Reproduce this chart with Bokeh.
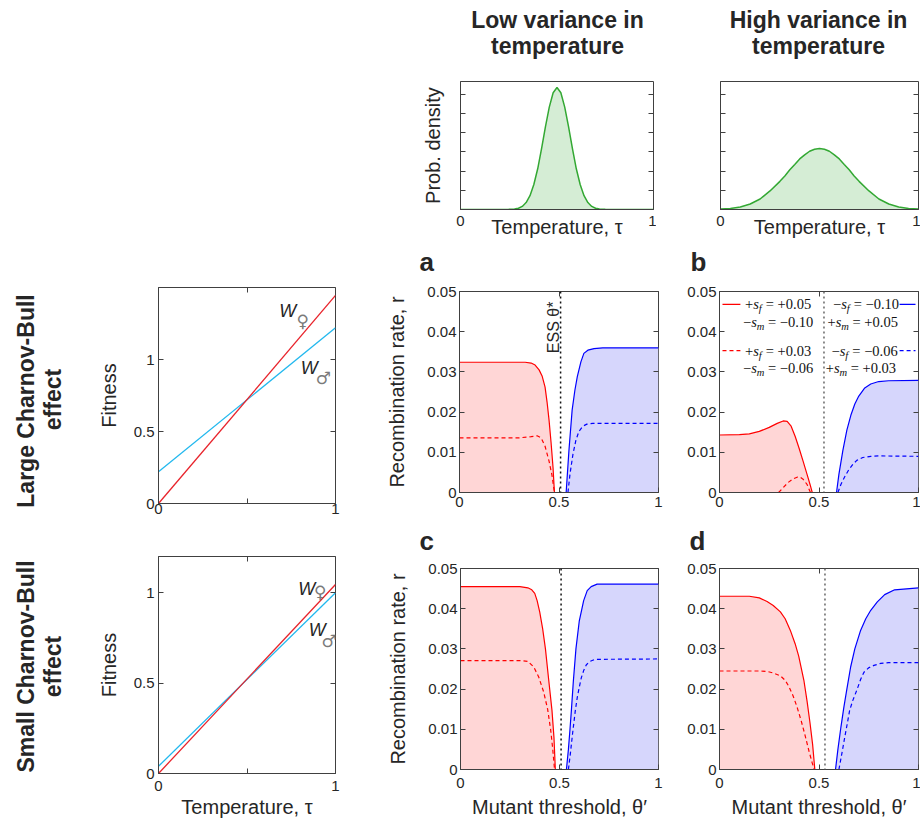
import numpy as np
from bokeh.plotting import figure
from bokeh.models import (Range1d, FixedTicker, LinearAxis, Span, Spacer, PrintfTickFormatter,
                          CustomLabelingPolicy)
from bokeh.layouts import row, column
from bokeh.core.properties import value
from bokeh.embed import file_html
from bokeh.resources import INLINE

# ---------------- data ----------------
# Temperature distributions (height as a fraction of the panel height)
dens_low_x = [0, 0.20, 0.25, 0.28, 0.30, 0.32, 0.34, 0.36, 0.38, 0.40, 0.42, 0.44, 0.46, 0.48, 0.50,
              0.52, 0.54, 0.56, 0.58, 0.60, 0.62, 0.64, 0.66, 0.68, 0.70, 0.72, 0.75, 0.80, 1.0]
dens_low_y = [0, 0, 0.001, 0.004, 0.010, 0.024, 0.054, 0.108, 0.195, 0.318, 0.475, 0.645, 0.800, 0.912, 0.953,
              0.912, 0.800, 0.645, 0.475, 0.318, 0.195, 0.108, 0.054, 0.024, 0.010, 0.004, 0.001, 0, 0]
dens_high_x = [0, 0.05, 0.10, 0.15, 0.20, 0.25, 0.30, 0.325, 0.35, 0.375, 0.40, 0.425, 0.45, 0.475, 0.50,
               0.525, 0.55, 0.575, 0.60, 0.625, 0.65, 0.675, 0.70, 0.75, 0.80, 0.85, 0.90, 0.95, 1.0]
dens_high_y = [0.003, 0.008, 0.020, 0.043, 0.082, 0.145, 0.220, 0.262, 0.310, 0.352, 0.395, 0.427, 0.455, 0.471, 0.477,
               0.471, 0.455, 0.427, 0.395, 0.352, 0.310, 0.262, 0.220, 0.145, 0.082, 0.043, 0.020, 0.008, 0.003]

# Fitness against temperature (values at tau = 0 and tau = 1)
fit_tau = [0, 1]
fit_large_female = [0.0, 1.445]
fit_large_male = [0.22, 1.22]
fit_small_female = [0.0, 1.045]
fit_small_male = [0.04, 1.0]

# Recombination rate r against mutant threshold theta'
a_red_x = [0, 0.33, 0.36, 0.38, 0.40, 0.415, 0.43, 0.44, 0.45, 0.46, 0.47, 0.477]
a_red_y = [0.0324, 0.0324, 0.0322, 0.0317, 0.0305, 0.0290, 0.0262, 0.0225, 0.0180, 0.0125, 0.0062, 0.0]
a_redd_x = [0, 0.30, 0.36, 0.39, 0.41, 0.43, 0.45, 0.465, 0.477]
a_redd_y = [0.0136, 0.0136, 0.0139, 0.0141, 0.0136, 0.0115, 0.0078, 0.0042, 0.0]
a_blue_x = [0.536, 0.55, 0.566, 0.58, 0.592, 0.61, 0.625, 0.645, 0.676, 0.72, 1.0]
a_blue_y = [0.0, 0.0105, 0.0205, 0.0255, 0.0288, 0.0325, 0.0346, 0.0354, 0.0358, 0.0360, 0.0360]
a_blued_x = [0.545, 0.555, 0.57, 0.585, 0.60, 0.62, 0.64, 0.67, 1.0]
a_blued_y = [0.0, 0.0045, 0.0095, 0.0130, 0.0152, 0.0165, 0.0170, 0.0172, 0.0172]

b_red_x = [0, 0.10, 0.15, 0.20, 0.25, 0.29, 0.32, 0.34, 0.36, 0.38, 0.40, 0.42, 0.44, 0.455, 0.466]
b_red_y = [0.0143, 0.0144, 0.0146, 0.0152, 0.0162, 0.0172, 0.0178, 0.0177, 0.0165, 0.0140, 0.0110, 0.0078, 0.0045, 0.0020, 0.0]
b_redd_x = [0.297, 0.32, 0.345, 0.37, 0.39, 0.405, 0.42, 0.44, 0.457]
b_redd_y = [0.0, 0.0012, 0.0025, 0.0034, 0.0038, 0.0038, 0.0033, 0.0020, 0.0]
b_blue_x = [0.588, 0.60, 0.62, 0.64, 0.66, 0.68, 0.70, 0.73, 0.76, 0.80, 0.85, 1.0]
b_blue_y = [0.0, 0.0045, 0.0105, 0.0155, 0.0192, 0.0220, 0.0240, 0.0260, 0.0270, 0.0276, 0.0278, 0.0279]
b_blued_x = [0.595, 0.61, 0.63, 0.65, 0.67, 0.69, 0.72, 0.76, 0.80, 1.0]
b_blued_y = [0.0, 0.0020, 0.0040, 0.0057, 0.0070, 0.0080, 0.0087, 0.0090, 0.0091, 0.0090]

c_red_x = [0, 0.30, 0.34, 0.36, 0.375, 0.387, 0.40, 0.415, 0.429, 0.445, 0.462, 0.472, 0.479]
c_red_y = [0.0455, 0.0455, 0.0452, 0.0447, 0.0438, 0.0420, 0.0392, 0.0350, 0.0300, 0.0225, 0.0147, 0.0080, 0.0]
c_redd_x = [0, 0.30, 0.34, 0.37, 0.395, 0.42, 0.44, 0.455, 0.465, 0.475]
c_redd_y = [0.0271, 0.0271, 0.0269, 0.0255, 0.0230, 0.0193, 0.0150, 0.0100, 0.0055, 0.0]
c_blue_x = [0.535, 0.545, 0.553, 0.56, 0.57, 0.583, 0.60, 0.622, 0.64, 0.66, 0.69, 1.0]
c_blue_y = [0.0, 0.0050, 0.0100, 0.0147, 0.0220, 0.0300, 0.0370, 0.0420, 0.0445, 0.0455, 0.0461, 0.0461]
c_blued_x = [0.545, 0.555, 0.565, 0.58, 0.59, 0.60, 0.61, 0.622, 0.635, 0.65, 0.68, 1.0]
c_blued_y = [0.0, 0.0040, 0.0085, 0.0147, 0.0180, 0.0205, 0.0228, 0.0246, 0.0260, 0.0268, 0.0274, 0.0275]

d_red_x = [0, 0.15, 0.20, 0.239, 0.27, 0.306, 0.33, 0.356, 0.38, 0.398, 0.424, 0.44, 0.455, 0.468, 0.479]
d_red_y = [0.0431, 0.0431, 0.0427, 0.0418, 0.0408, 0.0392, 0.0375, 0.0346, 0.0313, 0.0282, 0.0222, 0.0170, 0.0115, 0.0062, 0.0]
d_redd_x = [0, 0.20, 0.239, 0.27, 0.306, 0.33, 0.348, 0.37, 0.39, 0.41, 0.43, 0.45, 0.465, 0.476]
d_redd_y = [0.0245, 0.0245, 0.0244, 0.0240, 0.0233, 0.0222, 0.0207, 0.0183, 0.0155, 0.0122, 0.0085, 0.0045, 0.0018, 0.0]
d_blue_x = [0.583, 0.595, 0.61, 0.625, 0.64, 0.659, 0.68, 0.709, 0.735, 0.76, 0.793, 0.83, 0.88, 1.0]
d_blue_y = [0.0, 0.0050, 0.0105, 0.0155, 0.0200, 0.0255, 0.0300, 0.0346, 0.0375, 0.0396, 0.0417, 0.0435, 0.0447, 0.0452]
d_blued_x = [0.60, 0.615, 0.63, 0.645, 0.654, 0.67, 0.692, 0.709, 0.726, 0.75, 0.776, 0.81, 0.85, 1.0]
d_blued_y = [0.0, 0.0040, 0.0082, 0.0122, 0.0147, 0.0172, 0.0200, 0.0224, 0.0242, 0.0253, 0.0259, 0.0264, 0.0266, 0.0266]

# ESS threshold per panel
ess_theta = {"a": 0.508, "b": 0.525, "c": 0.508, "d": 0.530}

# legend entries (sign, subscript, value) : left column (red), right column (blue)
legend_left = [("+", "f", "= +0.05"), ("\u2212", "m", "= \u22120.10"),
               ("+", "f", "= +0.03"), ("\u2212", "m", "= \u22120.06")]
legend_right = [("\u2212", "f", "= \u22120.10"), ("+", "m", "= +0.05"),
                ("\u2212", "f", "= \u22120.06"), ("+", "m", "= +0.03")]

# ---------------- styling ----------------
SANS = "Liberation Sans"
SERIF = "Liberation Serif"
SYM = "DejaVu Sans"
TXT = "#262626"
AX = "#404040"
RED = "#ff0000"
BLUE = "#0000ff"
RED_FILL = "#ffd6d6"
BLUE_FILL = "#d6d6fc"
GREEN = "#33a833"
GREEN_FILL = "#d5edd5"
FIT_RED = "#e8232b"
FIT_CYAN = "#22b8ee"

R_TICKS = [0, 0.01, 0.02, 0.03, 0.04, 0.05]
T_TICKS = [0, 0.5, 1]


def no_labels():
    return CustomLabelingPolicy(code="return new Set()")


def base_fig(w, h, bl, br, bt, bb, xr, yr):
    p = figure(width=w, height=h, x_range=Range1d(*xr), y_range=Range1d(*yr), title=None,
               output_backend="svg", toolbar_location=None,
               min_border_left=bl, min_border_right=br, min_border_top=bt, min_border_bottom=bb)
    p.xgrid.visible = False
    p.ygrid.visible = False
    p.outline_line_color = AX
    p.outline_line_width = 1
    p.outline_line_alpha = 1.0
    return p


def canvas(x0, x1, y0, y1):
    p = figure(width=x1 - x0, height=y1 - y0, x_range=Range1d(x0, x1), y_range=Range1d(y1, y0),
               title=None, output_backend="svg", toolbar_location=None,
               x_axis_type=None, y_axis_type=None, min_border=0)
    p.outline_line_color = None
    return p


def style_axis(ax, ticks, standoff=3, size="15px", label=None, label_standoff=5, overrides=None):
    ax.ticker = FixedTicker(ticks=ticks)
    ax.formatter = PrintfTickFormatter(format="%g")
    if overrides:
        ax.major_label_overrides = overrides
    ax.major_tick_in = 5
    ax.major_tick_out = 0
    ax.minor_tick_line_color = None
    ax.major_tick_line_color = AX
    ax.axis_line_color = AX
    ax.major_label_text_font = SANS
    ax.major_label_text_font_size = size
    ax.major_label_text_color = TXT
    ax.major_label_standoff = standoff
    if size == "0px":
        ax.major_label_policy = no_labels()
    if label is not None:
        ax.axis_label = label
        ax.axis_label_text_font = SANS
        ax.axis_label_text_font_size = "20px"
        ax.axis_label_text_font_style = "normal"
        ax.axis_label_text_color = TXT
        ax.axis_label_standoff = label_standoff


def mirror(p, xticks=None, yticks=None):
    for side, ticks in (("above", xticks), ("right", yticks)):
        if ticks is None:
            continue
        ax = LinearAxis(ticker=FixedTicker(ticks=ticks), major_label_text_font_size="0px",
                        major_label_policy=no_labels(),
                        major_label_standoff=0, major_tick_in=5, major_tick_out=0,
                        minor_tick_line_color=None, axis_line_color=None, major_tick_line_color=AX)
        p.add_layout(ax, side)


def txt(p, x, y, s, size, font=SANS, style="normal", color=TXT, align="left",
        baseline="alphabetic", angle=0.0, xo=0.0, yo=0.0):
    p.text(x=[x], y=[y], text=[s], text_font=value(font), text_font_size=size,
           text_font_style=style, text_color=color, text_align=align, text_baseline=baseline,
           angle=angle, x_offset=xo, y_offset=yo)


# ---------------- text canvases ----------------
header = canvas(380, 920, 0, 78)
for cx, line1 in ((557, "Low variance in"), (818, "High variance in")):
    txt(header, cx, 19.2, line1, "23px", style="bold", align="center")
    txt(header, cx, 45.8, "temperature", "23px", style="bold", align="center")

strip_ab = canvas(380, 920, 247, 279)
txt(strip_ab, 419, 261.5, "a", "26px", style="bold")
txt(strip_ab, 690, 261, "b", "26px", style="bold")
strip_cd = canvas(380, 920, 525, 556)
txt(strip_cd, 419, 540.5, "c", "26px", style="bold")
txt(strip_cd, 689, 540.5, "d", "26px", style="bold")

labels = canvas(0, 75, 0, 827)
txt(labels, 25.3, 400.5, "Large Charnov-Bull", "23px", style="bold", align="center", angle=np.pi / 2)
txt(labels, 52, 399, "effect", "23px", style="bold", align="center", angle=np.pi / 2)
txt(labels, 25.3, 666, "Small Charnov-Bull", "23px", style="bold", align="center", angle=np.pi / 2)
txt(labels, 52, 666, "effect", "23px", style="bold", align="center", angle=np.pi / 2)

# ---------------- density panels ----------------
def dens_panel(w, bl, br, xs, ys, ylabel):
    p = base_fig(w, 169, bl, br, 3, 38, (0, 1), (0, 1))
    p.varea(x=xs, y1=0, y2=ys, fill_color=GREEN_FILL)
    p.line(xs, ys, line_color=GREEN, line_width=1.5)
    style_axis(p.below[0], [0, 1], standoff=6, label="Temperature, \u03c4", label_standoff=-13)
    yt = [0.15, 0.30, 0.45, 0.60, 0.75, 0.90]
    style_axis(p.left[0], yt, standoff=0, size="0px", label=ylabel, label_standoff=17)
    mirror(p, yticks=yt)
    return p


dens1 = dens_panel(276, 80, 3, dens_low_x, dens_low_y, "Prob. density")
dens2 = dens_panel(264, 64, 2, dens_high_x, dens_high_y, None)

# ---------------- fitness panels ----------------
def fit_panel(h, bt, bb, frame_w, ymax, female, male, xlabel, xstand):
    p = base_fig(305, h, 83, 305 - 83 - frame_w, bt, bb, (0, 1), (0, ymax))
    p.line(fit_tau, male, line_color=FIT_CYAN, line_width=1.3)
    p.line(fit_tau, female, line_color=FIT_RED, line_width=1.3)
    style_axis(p.below[0], T_TICKS, standoff=xstand, label=xlabel, label_standoff=2,
               overrides={0.5: "", "0.5": ""})
    style_axis(p.left[0], T_TICKS, standoff=4, label="Fitness", label_standoff=11)
    mirror(p, xticks=T_TICKS, yticks=T_TICKS)
    return p


SYM_GRAY = "#7a7a7a"
fit1 = fit_panel(277, 33, 28, 179, 1.5, fit_large_female, fit_large_male, None, 0)
txt(fit1, 0.682, 1.337, "W", "18px", style="italic")
txt(fit1, 0.815, 1.271, "\u2640", "17px", font=SYM, color=SYM_GRAY, align="center", baseline="middle", yo=1)
txt(fit1, 0.804, 0.944, "W", "18px", style="italic")
txt(fit1, 0.932, 0.879, "\u2642", "17px", font=SYM, color=SYM_GRAY, align="center", baseline="middle", yo=1)

fit2 = fit_panel(296, 25, 54, 177, 1.2, fit_small_female, fit_small_male, "Temperature, \u03c4", 7)
txt(fit2, 0.789, 1.018, "W", "18px", style="italic")
txt(fit2, 0.913, 1.008, "\u2640", "17px", font=SYM, color=SYM_GRAY, align="center", baseline="middle", yo=1)
txt(fit2, 0.849, 0.795, "W", "18px", style="italic")
txt(fit2, 0.964, 0.739, "\u2642", "17px", font=SYM, color=SYM_GRAY, align="center", baseline="middle", yo=1)

# ---------------- recombination panels ----------------
def rec_panel(w, h, bl, br, bb, curves, ess, ess_color, ylabel, xlabel, xstand):
    rx, ry, rdx, rdy, bx, by, bdx, bdy = curves
    p = base_fig(w, h, bl, br, 12, bb, (0, 1), (0, 0.05))
    p.varea(x=rx, y1=0, y2=ry, fill_color=RED_FILL)
    p.varea(x=bx, y1=0, y2=by, fill_color=BLUE_FILL)
    p.line(rx, ry, line_color=RED, line_width=1.2)
    p.line(rdx, rdy, line_color=RED, line_width=1.2, line_dash="4 3")
    p.line(bx, by, line_color=BLUE, line_width=1.2)
    p.line(bdx, bdy, line_color=BLUE, line_width=1.2, line_dash="4 3")
    p.add_layout(Span(location=ess, dimension="height", line_color=ess_color,
                      line_width=1.5, line_dash="2 3"))
    style_axis(p.below[0], T_TICKS, standoff=xstand, label=xlabel, label_standoff=5)
    style_axis(p.left[0], R_TICKS, standoff=3, label=ylabel, label_standoff=16)
    mirror(p, xticks=T_TICKS, yticks=R_TICKS)
    return p


pa = rec_panel(290, 246, 79, 12, 33, (a_red_x, a_red_y, a_redd_x, a_redd_y, a_blue_x, a_blue_y, a_blued_x, a_blued_y),
               ess_theta["a"], "#111111", "Recombination rate, r", None, 4)
txt(pa, 0.470, 0.0475, "ESS \u03b8*", "16px", align="right", angle=np.pi / 2)

pb = rec_panel(250, 246, 49, 2, 33, (b_red_x, b_red_y, b_redd_x, b_redd_y, b_blue_x, b_blue_y, b_blued_x, b_blued_y),
               ess_theta["b"], "#666666", None, None, 4)

pc = rec_panel(290, 271, 80, 12, 58, (c_red_x, c_red_y, c_redd_x, c_redd_y, c_blue_x, c_blue_y, c_blued_x, c_blued_y),
               ess_theta["c"], "#111111", "Recombination rate, r", "Mutant threshold, \u03b8\u2032", 8)
pd = rec_panel(250, 271, 49, 2, 58, (d_red_x, d_red_y, d_redd_x, d_redd_y, d_blue_x, d_blue_y, d_blued_x, d_blued_y),
               ess_theta["d"], "#666666", None, "Mutant threshold, \u03b8\u2032", 8)

# legend in panel b
LEG_Y = [0.0468, 0.0424, 0.0353, 0.0310]
LEFT_X = [0.128, 0.118, 0.128, 0.118]
RIGHT_X = [0.570, 0.543, 0.563, 0.534]
LEG_SIZE, SUB_SIZE = "14.5px", "10.5px"
W_SIGN, W_S, W_SP = 8.2, 5.6, 3.6
W_SUB = {"f": 3.4, "m": 7.6}


def legend_entry(p, x, y, sign, sub, rest):
    txt(p, x, y, sign, LEG_SIZE, font=SERIF, color="#111111", baseline="middle")
    txt(p, x, y, "s", LEG_SIZE, font=SERIF, style="italic", color="#111111", baseline="middle", xo=W_SIGN)
    txt(p, x, y, sub, SUB_SIZE, font=SERIF, style="italic", color="#111111", baseline="middle",
        xo=W_SIGN + W_S, yo=4.5)
    txt(p, x, y, rest, LEG_SIZE, font=SERIF, color="#111111", baseline="middle",
        xo=W_SIGN + W_S + W_SUB[sub] + W_SP)


for i in range(4):
    legend_entry(pb, LEFT_X[i], LEG_Y[i], *legend_left[i])
    legend_entry(pb, RIGHT_X[i], LEG_Y[i], *legend_right[i])
pb.line([0.015, 0.105], [LEG_Y[0], LEG_Y[0]], line_color=RED, line_width=1.2)
pb.line([0.015, 0.105], [LEG_Y[2], LEG_Y[2]], line_color=RED, line_width=1.2, line_dash="4 3")
pb.line([0.905, 0.985], [LEG_Y[0], LEG_Y[0]], line_color=BLUE, line_width=1.2)
pb.line([0.905, 0.985], [LEG_Y[2], LEG_Y[2]], line_color=BLUE, line_width=1.2, line_dash="4 3")

# ---------------- layout ----------------
fit_col = column(Spacer(width=305, height=254), fit1, fit2)
left_part = row(labels, fit_col)
right_col = column(header, row(dens1, dens2), strip_ab, row(pa, pb), strip_cd, row(pc, pd))
root = row(left_part, right_col)

open("out.html", "w").write(file_html(root, INLINE))
